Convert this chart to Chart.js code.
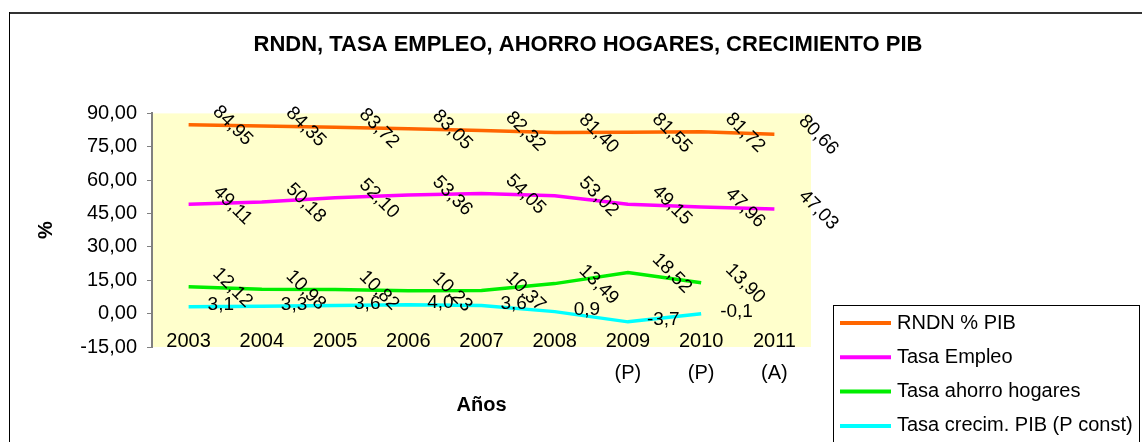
<!DOCTYPE html>
<html>
<head>
<meta charset="utf-8">
<script src="https://cdn.jsdelivr.net/npm/chart.js@4.4.1/dist/chart.umd.min.js"></script>
<style>
  html, body { margin: 0; padding: 0; background: #ffffff; }
  #wrap { width: 1142px; height: 442px; position: relative; }
</style>
</head>
<body>
<div id="wrap"><canvas id="c" width="1142" height="442"></canvas></div>
<script>
// ---- data ----
const years = ['2003', '2004', '2005', '2006', '2007', '2008', '2009', '2010', '2011'];
const yearNotes = ['', '', '', '', '', '', '(P)', '(P)', '(A)'];
const seriesNames = ['RNDN % PIB', 'Tasa Empleo', 'Tasa ahorro hogares', 'Tasa crecim. PIB (P const)'];
const rndnPib = [84.95, 84.35, 83.72, 83.05, 82.32, 81.40, 81.55, 81.72, 80.66];
const tasaEmpleo = [49.11, 50.18, 52.10, 53.36, 54.05, 53.02, 49.15, 47.96, 47.03];
const tasaAhorro = [12.12, 10.98, 10.82, 10.23, 10.37, 13.49, 18.52, 13.90, null];
const crecimPib = [3.1, 3.3, 3.6, 4.0, 3.6, 0.9, -3.7, -0.1, null];
const yTicks = [-15, 0, 15, 30, 45, 60, 75, 90];

const FONT = '"Liberation Sans", Arial, Helvetica, sans-serif';
Chart.defaults.font.family = FONT;
Chart.defaults.color = '#000';

const categoryLabels = years.map((y, i) => yearNotes[i] ? [y, yearNotes[i]] : y);
const fmt = (v, d) => v.toFixed(d).replace('.', ',');

// background + outer frame
const frame = {
  id: 'frame',
  beforeDraw(chart) {
    const ctx = chart.ctx, a = chart.chartArea;
    ctx.save();
    ctx.fillStyle = '#FFFFCC';
    ctx.fillRect(a.left, a.top, a.right - a.left, a.bottom - a.top);
    ctx.strokeStyle = '#333333';
    ctx.lineWidth = 2;
    ctx.beginPath(); ctx.moveTo(9, 13); ctx.lineTo(chart.width, 13); ctx.stroke();
    ctx.strokeStyle = '#000000';
    ctx.lineWidth = 1;
    ctx.beginPath(); ctx.moveTo(9.5, 12); ctx.lineTo(9.5, chart.height); ctx.stroke();
    ctx.restore();
  }
};

// value labels
const valueLabels = {
  id: 'valueLabels',
  afterDatasetsDraw(chart) {
    const ctx = chart.ctx;
    chart.data.datasets.forEach((ds, di) => {
      const meta = chart.getDatasetMeta(di);
      meta.data.forEach((pt, i) => {
        const v = ds.data[i];
        if (v === null || v === undefined) return;
        const txt = fmt(v, ds.labelDigits);
        ctx.save();
        ctx.font = '19px ' + FONT;
        ctx.fillStyle = '#000';
        if (ds.labelRotated) {
          ctx.translate(pt.x + 44, pt.y + 1);
          ctx.rotate(Math.PI / 4);
          ctx.textAlign = 'center';
          ctx.textBaseline = 'middle';
          ctx.fillText(txt, 0, 0);
        } else {
          ctx.textAlign = 'left';
          ctx.textBaseline = 'middle';
          ctx.fillText(txt, pt.x + 19, pt.y - 2);
        }
        ctx.restore();
      });
    });
  }
};

// legend as a layout box on the right
const boxLegend = {
  id: 'boxLegend',
  beforeInit(chart) {
    const box = {
      position: 'right', weight: 1000, fullSize: false,
      options: {},
      left: 0, top: 0, right: 0, bottom: 0, width: 0, height: 0,
      isHorizontal() { return false; },
      update(maxW, maxH) { this.width = 331; this.height = maxH; },
      draw() {
        const ctx = chart.ctx;
        const x0 = this.left + 22, y0 = 305, x1 = chart.width - 3, y1 = chart.height + 5;
        ctx.save();
        ctx.fillStyle = '#ffffff';
        ctx.fillRect(x0, y0, x1 - x0, y1 - y0);
        ctx.strokeStyle = '#000000';
        ctx.lineWidth = 1;
        ctx.strokeRect(x0 + 0.5, y0 + 0.5, x1 - x0, y1 - y0);
        ctx.font = '20px ' + FONT;
        ctx.textAlign = 'left';
        ctx.textBaseline = 'middle';
        chart.data.datasets.forEach((ds, i) => {
          const y = 323 + i * 34.3;
          ctx.strokeStyle = ds.borderColor;
          ctx.lineWidth = 4;
          ctx.beginPath(); ctx.moveTo(x0 + 7, y); ctx.lineTo(x0 + 58, y); ctx.stroke();
          ctx.fillStyle = '#000';
          ctx.fillText(ds.label, x0 + 64, y);
        });
        ctx.restore();
      }
    };
    Chart.layouts.addBox(chart, box);
  }
};

const mk = (label, data, color, digits, rotated) => ({
  label, data, borderColor: color, backgroundColor: color,
  borderWidth: 3.5, pointRadius: 0, pointHoverRadius: 0, tension: 0, fill: false,
  labelDigits: digits, labelRotated: rotated
});

new Chart(document.getElementById('c'), {
  type: 'line',
  data: {
    labels: categoryLabels,
    datasets: [
      mk(seriesNames[0], rndnPib, '#FF6600', 2, true),
      mk(seriesNames[1], tasaEmpleo, '#FF00FF', 2, true),
      mk(seriesNames[2], tasaAhorro, '#00EE00', 2, true),
      mk(seriesNames[3], crecimPib, '#00FFFF', 1, false)
    ]
  },
  options: {
    responsive: false,
    animation: false,
    devicePixelRatio: 1,
    layout: { padding: { left: 34, right: 0, top: 0, bottom: 0 } },
    plugins: {
      legend: { display: false },
      tooltip: { enabled: false },
      title: {
        display: true,
        text: 'RNDN, TASA EMPLEO, AHORRO HOGARES, CRECIMIENTO PIB',
        font: { size: 22, weight: 'bold', lineHeight: 1.2 },
        color: '#000',
        padding: { top: 32, bottom: 55 }
      }
    },
    scales: {
      x: {
        offset: true,
        grid: { display: false, drawTicks: false },
        border: { display: false },
        ticks: { font: { size: 20, lineHeight: 1.6 }, color: '#000', mirror: true, padding: -10, maxRotation: 0, autoSkip: false },
        title: { display: true, text: 'Años', font: { size: 20, weight: 'bold', lineHeight: 1.2 }, color: '#000', padding: { top: 0, bottom: 25 } },
        afterFit(s) { s.height = 95; }
      },
      y: {
        min: -15, max: 90,
        afterBuildTicks(s) { s.ticks = yTicks.map(v => ({ value: v })); },
        grid: { drawOnChartArea: false, drawTicks: true, tickLength: 5, tickColor: '#808080', tickWidth: 1 },
        border: { display: true, color: '#808080', width: 2 },
        ticks: { font: { size: 20 }, color: '#000', padding: 10, callback: v => fmt(v, 2) },
        title: { display: true, text: '%', font: { size: 20, weight: 'bold', lineHeight: 1.2 }, color: '#000', padding: { top: 0, bottom: 0 } },
        afterFit(s) { s.width = 118; }
      }
    }
  },
  plugins: [frame, boxLegend, valueLabels]
});
</script>
</body>
</html>
